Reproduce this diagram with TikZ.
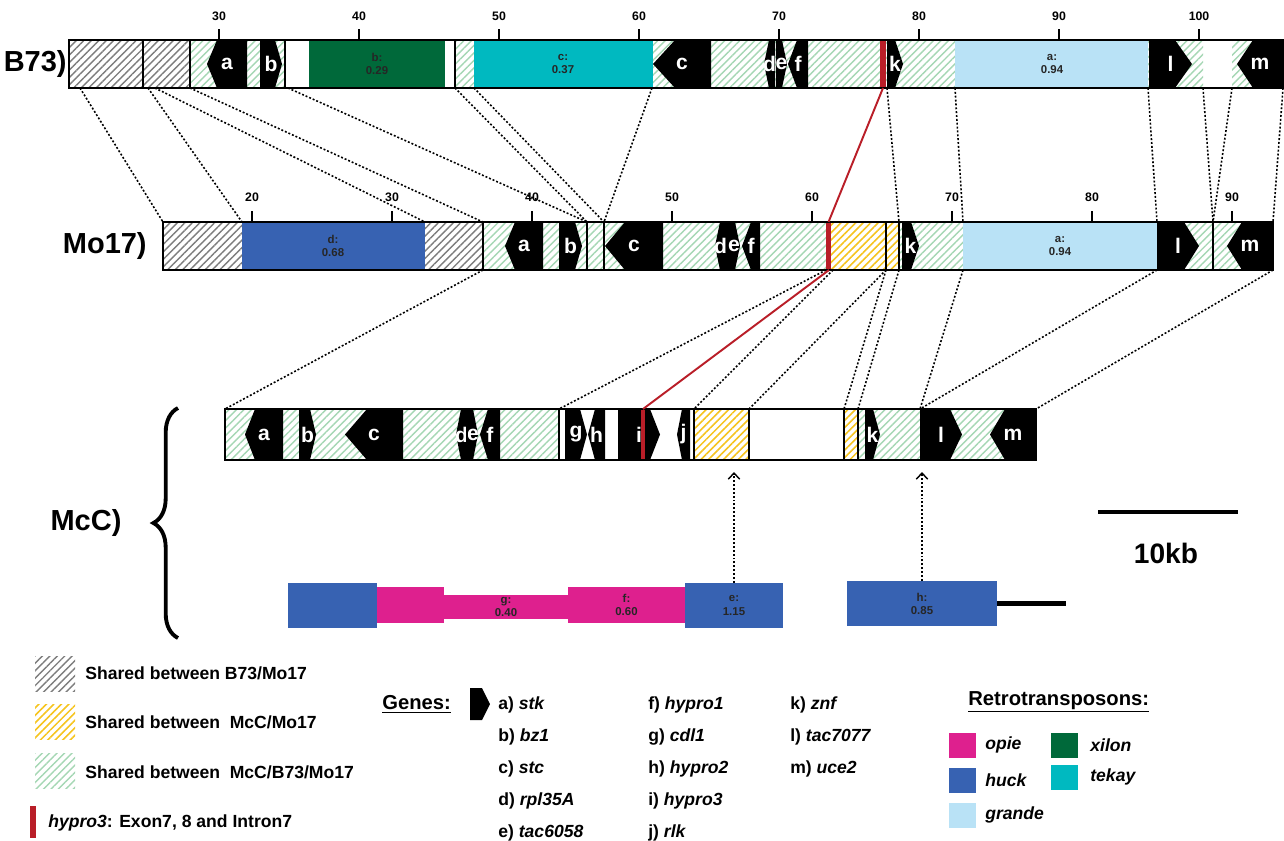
\documentclass[tikz,border=0pt]{standalone}
\usepackage{fontspec}
\setmainfont{Liberation Sans}
\usepackage{xcolor}
\usepackage{tikz}
\usetikzlibrary{calc, patterns.meta, arrows.meta, decorations.pathreplacing}

\definecolor{xilon}{RGB}{0,105,58}
\definecolor{tekay}{RGB}{0,185,192}
\definecolor{huck}{RGB}{55,98,178}
\definecolor{grande}{RGB}{185,226,246}
\definecolor{opie}{RGB}{222,32,142}
\definecolor{hypored}{RGB}{185,30,40}
\definecolor{hatchgray}{RGB}{125,125,125}
\definecolor{hatchyellow}{RGB}{246,196,30}
\definecolor{hatchgreen}{RGB}{165,215,180}

\tikzstyle{grayhatch}   = [pattern={Lines[angle=45,distance=3pt,line width=0.8pt]}, pattern color=hatchgray]
\tikzstyle{yellowhatch} = [pattern={Lines[angle=45,distance=3pt,line width=0.9pt]}, pattern color=hatchyellow]
\tikzstyle{greenhatch}  = [pattern={Lines[angle=45,distance=3pt,line width=0.8pt]}, pattern color=hatchgreen]
\tikzstyle{bar}       = [draw=black, line width=1.4pt]
\tikzstyle{sepline}   = [black, line width=0.8pt]
\tikzstyle{gene}      = [fill=black]
\tikzstyle{genelabel} = [text=white, font=\fontsize{12}{12}\selectfont\bfseries, inner sep=0pt]
\tikzstyle{telabel}   = [align=center, font=\fontsize{6.5}{7.5}\selectfont\bfseries, text=black!85, inner sep=0pt]
\tikzstyle{tebox}     = [align=center, font=\fontsize{6.5}{7.5}\selectfont\bfseries, text=black!85, inner sep=0pt]
\tikzstyle{tick}      = [line width=1.1pt]
\tikzstyle{ticklabel} = [font=\fontsize{7}{8}\selectfont\bfseries, inner sep=0pt]
\tikzstyle{rowlabel}  = [font=\fontsize{16.5}{18}\selectfont\bfseries, inner sep=0pt]
\tikzstyle{link}      = [line width=0.9pt, dash pattern=on 1.1pt off 1.1pt]
\tikzstyle{redlink}   = [hypored, line width=1.1pt]
\tikzstyle{legtext}   = [anchor=west, font=\fontsize{10}{12}\selectfont\bfseries, inner sep=0pt]
\tikzstyle{legtitle}  = [anchor=west, font=\fontsize{11.5}{14}\selectfont\bfseries, inner sep=0pt]
\tikzstyle{legsquare} = [minimum width=0.54cm, minimum height=0.5cm, inner sep=0pt]

% gene arrows: name, left x, right x, tip depth, letter
\newcommand{\geneR}[5]{%
  \fill[gene] (#2,\ytop) -- ({#3-#4},\ytop) -- (#3,\ymid) -- ({#3-#4},\ybot) -- (#2,\ybot) -- cycle;
  \node[genelabel] (#1) at ({(#2+#3)/2},\ymid) {#5};}
\newcommand{\geneL}[5]{%
  \fill[gene] (#2,\ymid) -- ({#2+#4},\ytop) -- (#3,\ytop) -- (#3,\ybot) -- ({#2+#4},\ybot) -- cycle;
  \node[genelabel] (#1) at ({(#2+#3)/2},\ymid) {#5};}
\newcommand{\barseg}[3]{\fill[#1] (#2,\ytop) rectangle (#3,\ybot);}
\newcommand{\barsep}[1]{\draw[sepline] (#1,\ytop) -- (#1,\ybot);}

\begin{document}
\begin{tikzpicture}[x=0.02cm, y=-0.02cm]
  \useasboundingbox (0,0) rectangle (1284,840);

  % B73
  \def\ytop{40}\def\ybot{88}\def\ymid{64}
  \fill[white] (69,\ytop) rectangle (1283,\ybot);
  \barseg{grayhatch}{69}{143}
  \barseg{grayhatch}{143}{190}
  \barseg{greenhatch}{190}{285}
  \barseg{fill=xilon}{309}{445}
  \barseg{greenhatch}{455}{474}
  \barseg{fill=tekay}{474}{653}
  \barseg{greenhatch}{653}{880}
  \barseg{greenhatch}{886}{955}
  \barseg{fill=grande}{955}{1148}
  \barseg{greenhatch}{1148}{1203}
  \barseg{greenhatch}{1232}{1283}
  \node[telabel] (b73xilon)  at (377,\ymid)  {b:\\0.29};
  \node[telabel] (b73tekay)  at (563,\ymid)  {c:\\0.37};
  \node[telabel] (b73grande) at (1052,\ymid) {a:\\0.94};
  \geneL{b73a}{207}{247}{10}{a}
  \geneR{b73b}{260}{282}{7}{b}
  \geneL{b73c}{653}{711}{22}{c}
  \geneL{b73d}{764}{775}{5}{d}
  \geneR{b73e}{776}{787}{5}{e}
  \geneL{b73f}{788}{808}{9}{f}
  \geneR{b73k}{887}{903}{8}{k}
  \geneR{b73l}{1149}{1192}{17}{l}
  \geneL{b73m}{1237}{1283}{16}{m}
  \foreach \x in {143,190,285,455} {\barsep{\x}}
  \fill[hypored] (880,\ytop) rectangle (886,\ybot);
  \draw[bar] (69,\ytop) rectangle (1283,\ybot);
  \foreach \t in {30,40,...,100} {
    \draw[tick] ({219+(\t-30)*14},40) -- ({219+(\t-30)*14},29);
    \node[ticklabel] (b73t\t) at ({219+(\t-30)*14},16) {\t};
  }
  \node[rowlabel, anchor=east] (b73) at (67,64) {B73)};

  % Mo17
  \def\ytop{222}\def\ybot{270}\def\ymid{246}
  \fill[white] (163,\ytop) rectangle (1273,\ybot);
  \barseg{grayhatch}{163}{242}
  \barseg{fill=huck}{242}{425}
  \barseg{grayhatch}{425}{483}
  \barseg{greenhatch}{483}{826}
  \barseg{yellowhatch}{831}{886}
  \barseg{yellowhatch}{886}{899}
  \barseg{greenhatch}{899}{963}
  \barseg{fill=grande}{963}{1157}
  \barseg{greenhatch}{1157}{1273}
  \node[telabel] (mo17huck)   at (333,\ymid)  {d:\\0.68};
  \node[telabel] (mo17grande) at (1060,\ymid) {a:\\0.94};
  \geneL{mo17a}{505}{543}{10}{a}
  \geneR{mo17b}{559}{582}{7}{b}
  \geneL{mo17c}{605}{663}{20}{c}
  \geneL{mo17d}{715}{726}{5}{d}
  \geneR{mo17e}{728}{740}{5}{e}
  \geneL{mo17f}{742}{760}{9}{f}
  \geneR{mo17k}{902}{919}{8}{k}
  \geneR{mo17l}{1157}{1199}{15}{l}
  \geneL{mo17m}{1227}{1273}{15}{m}
  \foreach \x in {483,587,604,727,886,899,1213} {\barsep{\x}}
  \fill[hypored] (826,\ytop) rectangle (831,\ybot);
  \draw[bar] (163,\ytop) rectangle (1273,\ybot);
  \foreach \t in {20,30,...,90} {
    \draw[tick] ({252+(\t-20)*14},222) -- ({252+(\t-20)*14},211);
    \node[ticklabel] (mo17t\t) at ({252+(\t-20)*14},197) {\t};
  }
  \node[rowlabel, anchor=east] (mo17) at (147,246) {Mo17)};

  % McC
  \def\ytop{409}\def\ybot{460}\def\ymid{434.5}
  \fill[white] (225,\ytop) rectangle (1036,\ybot);
  \barseg{greenhatch}{225}{559}
  \barseg{yellowhatch}{694}{749}
  \barseg{yellowhatch}{844}{858}
  \barseg{greenhatch}{858}{1036}
  \geneL{mcca}{245}{283}{10}{a}
  \geneR{mccb}{299}{316}{6}{b}
  \geneL{mccc}{345}{403}{22}{c}
  \geneL{mccd}{456}{467}{5}{d}
  \geneR{mcce}{468}{478}{5}{e}
  \geneL{mccf}{480}{500}{8}{f}
  \geneR{mccg}{565}{587}{7}{g}
  \geneL{mcch}{588}{605}{7}{h}
  \geneR{mcci}{618}{660}{10}{i}
  \geneL{mccj}{677}{690}{5}{j}
  \geneR{mcck}{865}{880}{7}{k}
  \geneR{mccl}{920}{962}{12}{l}
  \geneL{mccm}{990}{1036}{15}{m}
  \foreach \x in {467,559,694,749,844,858} {\barsep{\x}}
  \fill[hypored] (641,\ytop) rectangle (645,\ybot);
  \draw[bar] (225,\ytop) rectangle (1036,\ybot);
  \node[rowlabel] (mcc) at (86,523) {McC)};

  % homology links
  \foreach \a/\b [count=\i] in {80/163,148/242,155/425,190/483,288/587,455/587,474/604,652/604,887/899,955/963,1148/1157,1203/1213,1232/1213,1283/1273} {
    \coordinate (b73p\i) at (\a,88);
    \coordinate (mo17p\i) at (\b,222);
    \draw[link] (b73p\i) -- (mo17p\i);
  }
  \coordinate (b73red) at (883,88);
  \coordinate (mo17redtop) at (828.5,222);
  \draw[redlink] (b73red) -- (mo17redtop);
  \foreach \a/\b [count=\i] in {483/225,826/559,833/694,886/749,886/844,899/858,963/920,1157/920,1273/1036} {
    \coordinate (mo17q\i) at (\a,270);
    \coordinate (mccq\i) at (\b,409);
    \draw[link] (mo17q\i) -- (mccq\i);
  }
  \coordinate (mo17redbot) at (829,270);
  \coordinate (mccred) at (643,409);
  \draw[redlink] (mo17redbot) -- (mccred);

  % brace
  \coordinate (bracebot) at (178,638);
  \coordinate (bracetop) at (178,408);
  \draw[line width=2.2pt, decorate, decoration={brace, amplitude=14pt}] (bracebot) -- (bracetop);

  % retrotransposon insertions in McC
  \node[tebox, fill=huck, minimum width=1.78cm, minimum height=0.9cm] (huckleft) at (332.5,605.5) {};
  \node[tebox, fill=opie, minimum width=1.34cm, minimum height=0.72cm] (opieleft) at (410.5,605) {};
  \node[tebox, fill=opie, minimum width=2.48cm, minimum height=0.48cm] (opieg) at (506,607) {g:\\0.40};
  \node[tebox, fill=opie, minimum width=2.34cm, minimum height=0.72cm] (opief) at (626.5,605) {f:\\0.60};
  \node[tebox, fill=huck, minimum width=1.96cm, minimum height=0.9cm] (ebox) at (734,605.5) {e:\\1.15};
  \node[tebox, fill=huck, minimum width=3cm, minimum height=0.9cm] (hbox) at (922,603.5) {h:\\0.85};
  \coordinate (hend) at (1066,603.5);
  \draw[line width=2.3pt] (hbox.east) -- (hend);
  \coordinate (etip) at (734,472);
  \coordinate (htip) at (922,472);
  \draw[link, -{Straight Barb[length=3.5pt,width=6.5pt,line width=0.8pt]}] (ebox.north) -- (etip);
  \draw[link, -{Straight Barb[length=3.5pt,width=6.5pt,line width=0.8pt]}] (hbox.north) -- (htip);

  % scale bar
  \coordinate (sbleft) at (1098,512);
  \coordinate (sbright) at (1238,512);
  \draw[line width=1.8pt] (sbleft) -- (sbright);
  \node[font=\fontsize{16}{18}\selectfont\bfseries] (sblabel) at (1166,553) {10kb};

  % legend
  \fill[grayhatch] (35,656) rectangle (75,691);
  \fill[yellowhatch] (35,704) rectangle (75,739);
  \fill[greenhatch] (35,753) rectangle (75,788);
  \fill[hypored] (30,806) rectangle (36,838);
  \node[legtext] (leggray)   at (85,673) {Shared between B73/Mo17};
  \node[legtext] (legyellow) at (85,722) {Shared between\ \ McC/Mo17};
  \node[legtext] (leggreen)  at (85,772) {Shared between\ \ McC/B73/Mo17};
  \node[legtext] (legred)    at (48,823) {\textit{hypro3}: Exon7, 8 and Intron7};

  \node[legtitle] (genes) at (382,704) {\underline{Genes:}};
  \fill[gene] (470,688) -- (482,688) -- (490,704) -- (482,720) -- (470,720) -- cycle;
  \foreach \g/\n [count=\i] in {a/stk,b/bz1,c/stc,d/rpl35A,e/tac6058} {
    \node[legtext] (gl\g) at (498,{705+(\i-1)*32}) {\g) \textit{\n}};
  }
  \foreach \g/\n [count=\i] in {f/hypro1,g/cdl1,h/hypro2,i/hypro3,j/rlk} {
    \node[legtext] (gl\g) at (648,{705+(\i-1)*32}) {\g) \textit{\n}};
  }
  \foreach \g/\n [count=\i] in {k/znf,l/tac7077,m/uce2} {
    \node[legtext] (gl\g) at (790,{705+(\i-1)*32}) {\g) \textit{\n}};
  }

  \node[legtitle] (retro) at (968,702) {\underline{Retrotransposons:}};
  \node[legsquare, fill=opie]   (sqopie)   at (962,745) {};
  \node[legsquare, fill=huck]   (sqhuck)   at (962,780) {};
  \node[legsquare, fill=grande] (sqgrande) at (962,815) {};
  \node[legsquare, fill=xilon]  (sqxilon)  at (1064,745) {};
  \node[legsquare, fill=tekay]  (sqtekay)  at (1064,777) {};
  \node[legtext] (lopie)   at (985,745)  {\textit{opie}};
  \node[legtext] (lhuck)   at (985,780)  {\textit{huck}};
  \node[legtext] (lgrande) at (985,815)  {\textit{grande}};
  \node[legtext] (lxilon)  at (1090,745) {\textit{xilon}};
  \node[legtext] (ltekay)  at (1090,777) {\textit{tekay}};
\end{tikzpicture}
\end{document}
